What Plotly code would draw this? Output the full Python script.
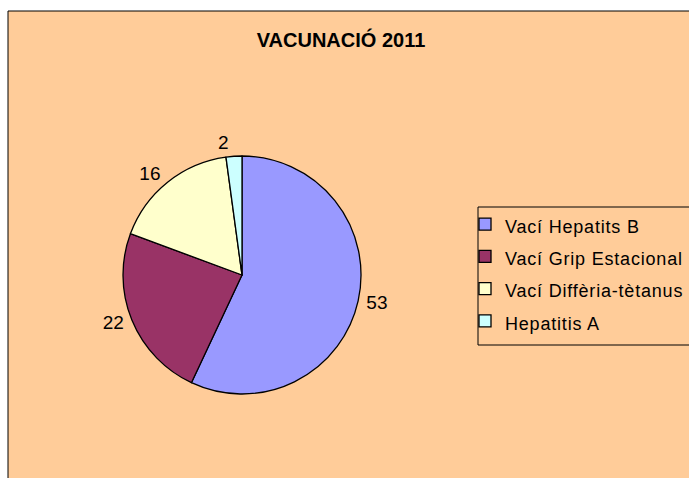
import plotly.graph_objects as go

W, H = 689, 478

labels = ["Vací Hepatits B", "Vací Grip Estacional", "Vací Diffèria-tètanus", "Hepatitis A"]
values = [53, 22, 16, 2]
colors = ["#9999FF", "#993366", "#FFFFCC", "#CCFFFF"]
title_text = "VACUNACIÓ 2011"

bg = "#FFCC99"
FONT = "Liberation Sans, Arial"


def fx(px):
    return px / W


def fy(py):
    return 1 - py / H


def dom(cx, cy, r):
    return dict(x=[fx(cx - r), fx(cx + r)], y=[fy(cy + r), fy(cy - r)])


CX, CY, R = 242, 275, 119

legend_labels = ['<span style="font-size:18px;letter-spacing:0.8px">' + l + "</span>" for l in labels]

fig = go.Figure()
# transparent, slightly larger copy of the pie that only carries the value labels
fig.add_trace(go.Pie(
    labels=legend_labels,
    values=values,
    sort=False,
    direction="clockwise",
    rotation=0,
    marker=dict(colors=["rgba(0,0,0,0)"] * len(values), line=dict(width=0)),
    textinfo="value",
    textposition="outside",
    outsidetextfont=dict(family=FONT, size=19, color="black"),
    hoverinfo="skip",
    showlegend=False,
    domain=dom(CX, CY, R + 3),
))
fig.add_trace(go.Pie(
    labels=legend_labels,
    values=values,
    sort=False,
    direction="clockwise",
    rotation=0,
    marker=dict(colors=colors, line=dict(color="black", width=1.3)),
    textinfo="none",
    hoverinfo="label+value",
    domain=dom(CX, CY, R),
))

fig.update_layout(
    width=W, height=H,
    margin=dict(l=0, r=0, t=0, b=0, autoexpand=False),
    paper_bgcolor="white",
    plot_bgcolor="white",
    title=dict(text="<b>" + title_text + "</b>", x=fx(341), xanchor="center",
               y=fy(40), yanchor="middle",
               font=dict(family=FONT, size=20, color="black")),
    legend=dict(
        x=fx(465), xanchor="left", y=fy(203), yanchor="top",
        bgcolor="rgba(0,0,0,0)", borderwidth=0,
        font=dict(family=FONT, size=22.5, color="black"),
        itemwidth=30,
    ),
    shapes=[
        dict(type="rect", xref="paper", yref="paper",
             x0=fx(8), x1=1.05, y0=-0.05, y1=fy(11),
             line=dict(color="black", width=1), fillcolor=bg, layer="below"),
        dict(type="rect", xref="paper", yref="paper",
             x0=fx(478), x1=1.05, y0=fy(345), y1=fy(207),
             line=dict(color="black", width=1), fillcolor=bg, layer="below"),
    ],
)

fig.write_html(
    "out.html",
    config={"displayModeBar": False},
    post_script="document.body.style.margin='0';document.body.style.overflow='hidden';",
)
